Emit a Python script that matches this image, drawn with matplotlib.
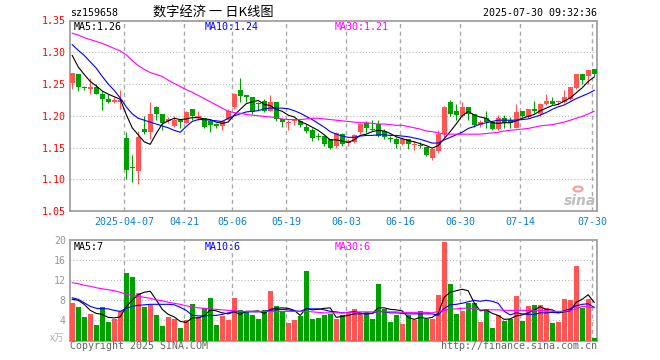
import matplotlib
matplotlib.use("Agg")
import matplotlib.pyplot as plt
import numpy as np

plt.rcParams["font.family"] = ["DejaVu Sans Mono"]

# daily K-line data, 2025-03-24 .. 2025-07-30 (88 sessions)
opens = [
    1.251, 1.265, 1.245, 1.242, 1.246, 1.235, 1.227, 1.221, 1.221, 1.165,
    1.118, 1.113, 1.179, 1.174, 1.214, 1.202, 1.191, 1.184, 1.193, 1.189,
    1.210, 1.196, 1.196, 1.192, 1.187, 1.184, 1.194, 1.213, 1.241, 1.232,
    1.229, 1.219, 1.223, 1.208, 1.222, 1.195, 1.189, 1.192, 1.192, 1.182,
    1.178, 1.168, 1.168, 1.163, 1.152, 1.172, 1.157, 1.159, 1.175, 1.189,
    1.179, 1.187, 1.176, 1.165, 1.164, 1.155, 1.163, 1.154, 1.154, 1.151,
    1.134, 1.145, 1.171, 1.221, 1.208, 1.200, 1.213, 1.202, 1.185, 1.197,
    1.190, 1.179, 1.197, 1.194, 1.181, 1.207, 1.198, 1.210, 1.203, 1.218,
    1.224, 1.221, 1.221, 1.227, 1.244, 1.265, 1.262, 1.274]
closes = [
    1.267, 1.245, 1.244, 1.246, 1.235, 1.227, 1.221, 1.225, 1.225, 1.115,
    1.117, 1.167, 1.174, 1.202, 1.203, 1.189, 1.195, 1.193, 1.190, 1.206,
    1.200, 1.199, 1.182, 1.185, 1.184, 1.191, 1.208, 1.234, 1.231, 1.229,
    1.206, 1.218, 1.208, 1.221, 1.195, 1.190, 1.190, 1.194, 1.185, 1.176,
    1.165, 1.167, 1.155, 1.149, 1.173, 1.155, 1.160, 1.170, 1.187, 1.181,
    1.178, 1.168, 1.167, 1.164, 1.156, 1.164, 1.155, 1.155, 1.152, 1.138,
    1.147, 1.171, 1.214, 1.203, 1.201, 1.214, 1.202, 1.185, 1.190, 1.190,
    1.179, 1.197, 1.189, 1.188, 1.206, 1.200, 1.210, 1.207, 1.219, 1.224,
    1.219, 1.222, 1.229, 1.245, 1.265, 1.257, 1.272, 1.265]
highs = [
    1.268, 1.266, 1.247, 1.259, 1.250, 1.239, 1.235, 1.229, 1.240, 1.175,
    1.138, 1.176, 1.200, 1.222, 1.215, 1.203, 1.198, 1.200, 1.193, 1.208,
    1.210, 1.207, 1.197, 1.192, 1.188, 1.193, 1.211, 1.236, 1.260, 1.232,
    1.229, 1.222, 1.227, 1.232, 1.222, 1.195, 1.193, 1.194, 1.194, 1.187,
    1.181, 1.173, 1.170, 1.163, 1.175, 1.173, 1.163, 1.171, 1.188, 1.192,
    1.193, 1.193, 1.179, 1.168, 1.166, 1.166, 1.163, 1.160, 1.158, 1.151,
    1.150, 1.178, 1.215, 1.225, 1.218, 1.221, 1.213, 1.202, 1.193, 1.208,
    1.192, 1.201, 1.201, 1.198, 1.218, 1.208, 1.210, 1.224, 1.220, 1.234,
    1.229, 1.225, 1.241, 1.245, 1.266, 1.265, 1.272, 1.274]
lows = [
    1.242, 1.239, 1.240, 1.234, 1.234, 1.209, 1.220, 1.220, 1.211, 1.100,
    1.095, 1.093, 1.172, 1.163, 1.194, 1.177, 1.189, 1.183, 1.180, 1.189,
    1.194, 1.194, 1.180, 1.174, 1.180, 1.178, 1.194, 1.211, 1.221, 1.221,
    1.202, 1.209, 1.206, 1.207, 1.191, 1.183, 1.177, 1.185, 1.182, 1.173,
    1.160, 1.162, 1.152, 1.147, 1.150, 1.152, 1.153, 1.157, 1.172, 1.173,
    1.176, 1.166, 1.163, 1.158, 1.150, 1.154, 1.147, 1.146, 1.150, 1.137,
    1.130, 1.141, 1.167, 1.200, 1.194, 1.198, 1.194, 1.183, 1.183, 1.180,
    1.178, 1.177, 1.180, 1.181, 1.180, 1.198, 1.197, 1.205, 1.200, 1.217,
    1.217, 1.217, 1.220, 1.225, 1.242, 1.250, 1.250, 1.263]
# volume, units of 10k
volumes = [
    7.5, 6.6, 4.6, 5.2, 3.1, 6.6, 3.6, 4.2, 5.9, 13.4,
    12.6, 9.4, 6.6, 7.0, 5.0, 2.8, 4.6, 4.2, 2.4, 4.0,
    7.2, 4.6, 6.5, 8.4, 3.0, 4.8, 4.0, 8.4, 6.0, 5.8,
    5.0, 4.2, 6.0, 9.8, 6.8, 5.9, 3.5, 4.0, 4.8, 13.8,
    4.2, 4.4, 5.0, 5.3, 4.3, 5.1, 5.5, 6.2, 5.3, 5.5,
    4.3, 11.2, 6.3, 3.7, 5.0, 3.2, 5.0, 4.0, 5.8, 4.2,
    4.2, 9.0, 19.6, 11.2, 5.3, 5.8, 7.4, 7.5, 3.6, 6.2,
    2.4, 5.0, 3.8, 4.3, 8.8, 3.8, 6.8, 7.0, 7.0, 6.4,
    3.4, 3.6, 8.2, 8.0, 14.8, 6.4, 8.2, 0.4]

# moving average lines as drawn on the chart
ma5 = [
    1.295, 1.277, 1.265, 1.254, 1.247, 1.239, 1.234, 1.230, 1.226, 1.202,
    1.181, 1.170, 1.159, 1.155, 1.172, 1.187, 1.192, 1.196, 1.194, 1.195,
    1.197, 1.197, 1.195, 1.194, 1.190, 1.188, 1.190, 1.201, 1.210, 1.219,
    1.222, 1.224, 1.218, 1.216, 1.210, 1.207, 1.201, 1.198, 1.191, 1.187,
    1.182, 1.177, 1.170, 1.162, 1.162, 1.160, 1.158, 1.162, 1.169, 1.171,
    1.175, 1.177, 1.176, 1.172, 1.167, 1.164, 1.161, 1.159, 1.156, 1.153,
    1.149, 1.153, 1.164, 1.175, 1.187, 1.200, 1.207, 1.201, 1.198, 1.196,
    1.189, 1.188, 1.189, 1.189, 1.192, 1.196, 1.199, 1.202, 1.208, 1.212,
    1.216, 1.218, 1.223, 1.228, 1.236, 1.244, 1.254, 1.261]
ma10 = [
    1.312, 1.303, 1.295, 1.285, 1.275, 1.262, 1.250, 1.240, 1.228, 1.214,
    1.203, 1.196, 1.193, 1.190, 1.187, 1.184, 1.181, 1.177, 1.174, 1.183,
    1.191, 1.194, 1.194, 1.193, 1.192, 1.191, 1.196, 1.200, 1.203, 1.206,
    1.207, 1.208, 1.211, 1.212, 1.212, 1.212, 1.211, 1.208, 1.204, 1.199,
    1.194, 1.188, 1.182, 1.175, 1.171, 1.168, 1.166, 1.166, 1.168, 1.169,
    1.169, 1.170, 1.170, 1.169, 1.169, 1.168, 1.167, 1.165, 1.163, 1.160,
    1.157, 1.157, 1.162, 1.166, 1.170, 1.174, 1.180, 1.183, 1.187, 1.189,
    1.191, 1.193, 1.193, 1.193, 1.193, 1.194, 1.195, 1.198, 1.201, 1.205,
    1.210, 1.214, 1.217, 1.222, 1.227, 1.231, 1.235, 1.240]
ma30 = [
    1.330, 1.327, 1.323, 1.320, 1.317, 1.314, 1.310, 1.306, 1.302, 1.296,
    1.287, 1.279, 1.273, 1.268, 1.265, 1.262, 1.256, 1.251, 1.246, 1.241,
    1.237, 1.232, 1.227, 1.222, 1.217, 1.212, 1.207, 1.205, 1.204, 1.202,
    1.201, 1.200, 1.199, 1.198, 1.197, 1.195, 1.194, 1.194, 1.194, 1.195,
    1.196, 1.196, 1.195, 1.194, 1.193, 1.192, 1.191, 1.190, 1.189, 1.189,
    1.188, 1.187, 1.187, 1.186, 1.185, 1.185, 1.183, 1.181, 1.179, 1.176,
    1.175, 1.173, 1.171, 1.171, 1.171, 1.171, 1.171, 1.171, 1.171, 1.172,
    1.173, 1.174, 1.176, 1.177, 1.178, 1.179, 1.180, 1.182, 1.184, 1.185,
    1.186, 1.188, 1.190, 1.193, 1.196, 1.199, 1.203, 1.207]
vma5 = [
    8.2, 8.0, 7.2, 6.0, 5.4, 5.2, 4.6, 4.5, 4.7, 6.7,
    8.0, 9.1, 9.6, 9.8, 8.1, 6.2, 5.2, 4.7, 3.8, 3.6,
    4.5, 4.5, 4.9, 6.1, 5.9, 5.5, 5.3, 5.7, 5.2, 5.8,
    5.8, 5.9, 5.4, 6.2, 6.4, 6.5, 6.4, 6.0, 5.0, 6.4,
    6.1, 6.2, 6.4, 6.5, 4.6, 4.8, 5.0, 5.3, 5.3, 5.5,
    5.4, 6.5, 6.5, 6.2, 6.1, 5.9, 4.6, 4.2, 4.6, 4.4,
    4.6, 5.4, 8.6, 9.6, 9.9, 10.2, 9.9, 7.5, 5.9, 6.1,
    5.4, 5.0, 4.2, 4.3, 4.9, 5.1, 5.5, 6.1, 6.7, 6.2,
    6.1, 5.5, 5.7, 5.9, 7.6, 8.2, 9.1, 7.6]
vma10 = [
    8.5, 8.2, 7.5, 6.8, 6.4, 6.3, 6.3, 6.0, 5.8, 6.4,
    6.8, 7.0, 7.1, 7.2, 7.2, 7.2, 7.2, 7.1, 6.6, 6.0,
    5.0, 4.9, 4.9, 5.0, 5.0, 5.2, 5.5, 5.8, 5.7, 5.7,
    5.7, 5.7, 5.8, 6.0, 6.1, 6.2, 6.1, 5.9, 5.8, 6.3,
    6.3, 6.3, 6.1, 5.8, 5.7, 5.5, 5.6, 5.8, 5.5, 5.2,
    5.4, 5.8, 5.7, 5.5, 5.5, 5.4, 5.3, 5.3, 5.3, 5.3,
    5.3, 5.0, 6.4, 7.1, 7.2, 7.4, 7.7, 8.0, 7.8, 8.0,
    7.8, 7.4, 5.8, 5.1, 5.5, 5.3, 5.2, 5.2, 5.5, 5.5,
    5.6, 5.5, 5.9, 6.3, 6.9, 7.2, 7.3, 6.6]
vma30 = [
    11.5, 11.3, 11.0, 10.8, 10.5, 10.3, 10.1, 9.9, 9.6, 9.2,
    9.0, 8.8, 8.6, 8.4, 8.1, 7.9, 7.6, 7.4, 7.2, 6.9,
    6.7, 6.5, 6.4, 6.3, 6.2, 6.1, 6.0, 5.9, 5.8, 5.8,
    5.8, 5.8, 5.8, 5.8, 5.8, 5.8, 5.8, 5.8, 5.8, 5.8,
    5.7, 5.6, 5.5, 5.5, 5.5, 5.5, 5.6, 5.6, 5.7, 5.7,
    5.7, 5.7, 5.7, 5.7, 5.7, 5.6, 5.6, 5.6, 5.6, 5.6,
    5.5, 5.8, 6.0, 6.2, 6.3, 6.4, 6.5, 6.3, 6.1, 6.1,
    6.1, 6.1, 6.0, 6.0, 6.0, 6.0, 6.0, 6.0, 6.0, 5.9,
    5.8, 5.8, 5.8, 5.9, 6.3, 6.8, 6.7, 6.5]

tick_idx = [9, 19, 27, 36, 46, 55, 65, 75, 87]
tick_labels = ["2025-04-07", "04-21", "05-06", "05-19", "06-03",
               "06-16", "06-30", "07-14", "07-30"]
price_levels = [1.05, 1.10, 1.15, 1.20, 1.25, 1.30, 1.35]
vol_levels = [4, 8, 12, 16, 20]

RED = "#ff5555"
GREEN = "#00a000"
FRAME = "#a0a0a0"
GRID = "#aaaaaa"
W, H = 660, 360


def fx(px):
    return px / W


def fy(py):
    return 1 - py / H


o = np.array(opens)
c = np.array(closes)
x = np.arange(len(c))
cols = np.where(c > o, RED, GREEN)

fig = plt.figure(figsize=(6.6, 3.6), dpi=100, facecolor="white")
ax = fig.add_axes([fx(70), fy(211), 527 / W, 190.5 / H])
axv = fig.add_axes([fx(70), fy(340.5), 527 / W, 100.5 / H])

# candles
ax.vlines(x, lows, highs, colors=cols, lw=0.8, zorder=3)
ax.bar(x, np.maximum(np.abs(c - o), 0.0016), bottom=np.minimum(o, c),
       width=0.8, color=cols, lw=0, zorder=4)
ax.plot(x, ma5, color="black", lw=0.8, zorder=5)
ax.plot(x, ma10, color="#0000ff", lw=0.8, zorder=5)
ax.plot(x, ma30, color="#ff00ff", lw=0.8, zorder=5)

# volume
axv.bar(x, volumes, width=0.82, color=cols, lw=0, zorder=3)
axv.plot(x, vma5, color="black", lw=0.8, zorder=5)
axv.plot(x, vma10, color="#0000ff", lw=0.8, zorder=5)
axv.plot(x, vma30, color="#ff00ff", lw=0.8, zorder=5)

grid_x = [i - 0.35 for i in tick_idx]
for a in (ax, axv):
    a.set_xlim(-0.37, 87.47)
    for gx in grid_x:
        a.axvline(gx, color=GRID, lw=1, ls=(0, (3, 2.5)), zorder=1)
    for s in a.spines.values():
        s.set_color(FRAME)
        s.set_linewidth(1.3)

ax.set_ylim(1.05, 1.35)
for lv in price_levels[1:-1]:
    ax.axhline(lv, color=GRID, lw=0.8, ls=(0, (0.8, 2)), zorder=1)
ax.set_yticks(price_levels)
ax.set_yticklabels([f"{v:.2f}" for v in price_levels])
ax.tick_params(axis="y", length=0, pad=3, labelsize=7.2, labelcolor="#ff0000")
ax.set_xticks(grid_x)
ax.set_xticklabels(tick_labels)
ax.tick_params(axis="x", length=0, pad=4.5, labelsize=7.2, labelcolor="#0a80d0")

axv.set_ylim(0, 20)
for lv in vol_levels[:-1]:
    axv.axhline(lv, color=GRID, lw=0.8, ls=(0, (0.8, 2)), zorder=1)
axv.set_yticks(vol_levels)
axv.tick_params(axis="y", length=0, pad=3, labelsize=7.2, labelcolor="#999999")
axv.set_xticks([])

# header
fig.text(fx(70), fy(13), "sz159658", fontsize=7.2, va="center", ha="left")
fig.text(fx(213), fy(13), "数字经济 一 日K线图", fontsize=9.5, va="center", ha="center",
         family=["Noto Sans CJK SC", "DejaVu Sans"])
fig.text(fx(597), fy(13), "2025-07-30 09:32:36", fontsize=7.2, va="center", ha="right")

fig.text(fx(74), fy(26.5), "MA5:1.26", fontsize=7.2, va="center", color="black")
fig.text(fx(205), fy(26.5), "MA10:1.24", fontsize=7.2, va="center", color="#0000ff")
fig.text(fx(334.5), fy(26.5), "MA30:1.21", fontsize=7.2, va="center", color="#ff00ff")
fig.text(fx(74), fy(247), "MA5:7", fontsize=7.2, va="center", color="black")
fig.text(fx(205), fy(247), "MA10:6", fontsize=7.2, va="center", color="#0000ff")
fig.text(fx(334.5), fy(247), "MA30:6", fontsize=7.2, va="center", color="#ff00ff")

fig.text(fx(64), fy(338), "x万", fontsize=7, va="center", ha="right", color="#b0b0b0",
         family=["Noto Sans CJK SC", "DejaVu Sans"])
fig.text(fx(70), fy(346), "Copyright 2025 SINA.COM", fontsize=7.2, va="center",
         ha="left", color="#666666")
fig.text(fx(597), fy(346), "http://finance.sina.com.cn", fontsize=7.2, va="center",
         ha="right", color="#666666")

# sina watermark
fig.text(fx(596), fy(205), "sina", fontsize=10, style="italic", weight="bold",
         color="#bdbdbd", ha="right", va="baseline", family=["DejaVu Sans"])
fig.add_artist(plt.Circle((fx(578), fy(189)), 4.5 / W, transform=fig.transFigure,
                          facecolor="none", edgecolor="#f2a5a5", lw=1.6))

fig.savefig("out.png", dpi=100, facecolor="white")
